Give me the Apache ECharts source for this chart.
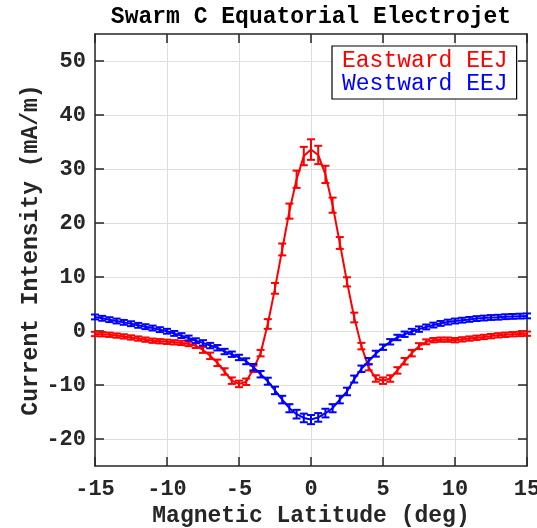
<!DOCTYPE html>
<html>
<head>
<meta charset="utf-8">
<script src="https://cdn.jsdelivr.net/npm/echarts@6/dist/echarts.min.js"></script>
<style>
html,body{margin:0;padding:0;background:#fff;}
#chart{width:537px;height:528px;}
</style>
</head>
<body>
<div id="chart"></div>
<script>
// Magnetic latitude (deg)
var latitudes = [-15,-14.5,-14,-13.5,-13,-12.5,-12,-11.5,-11,-10.5,-10,-9.5,-9,-8.5,-8,-7.5,-7,-6.5,-6,-5.5,-5,-4.5,-4,-3.5,-3,-2.5,-2,-1.5,-1,-0.5,0,0.5,1,1.5,2,2.5,3,3.5,4,4.5,5,5.5,6,6.5,7,7.5,8,8.5,9,9.5,10,10.5,11,11.5,12,12.5,13,13.5,14,14.5,15];
// Eastward EEJ (mA/m)
var eastward = [-0.55,-0.6,-0.7,-0.85,-1.0,-1.2,-1.4,-1.6,-1.8,-1.9,-2.0,-2.1,-2.2,-2.4,-2.7,-3.5,-4.6,-5.9,-7.5,-9.2,-9.8,-9.4,-7.0,-4.1,1.3,7.9,15.1,22.2,28.1,32.4,33.6,32.6,29.0,23.3,16.3,9.1,2.5,-2.8,-6.7,-8.8,-9.2,-8.8,-7.3,-5.6,-4.1,-2.8,-2.0,-1.7,-1.6,-1.6,-1.7,-1.55,-1.4,-1.25,-1.1,-0.95,-0.8,-0.7,-0.6,-0.55,-0.5];
var eastwardErr = [0.4,0.4,0.4,0.4,0.4,0.4,0.4,0.4,0.4,0.4,0.4,0.4,0.4,0.4,0.45,0.55,0.6,0.6,0.6,0.6,0.6,0.6,0.6,0.6,0.9,1.0,1.1,1.4,1.6,1.7,1.9,1.7,1.6,1.4,1.1,0.85,0.9,0.6,0.6,0.6,0.6,0.6,0.6,0.6,0.6,0.55,0.45,0.4,0.4,0.4,0.4,0.4,0.4,0.4,0.4,0.4,0.4,0.4,0.4,0.4,0.4];
// Westward EEJ (mA/m)
var westward = [2.6,2.35,2.1,1.85,1.6,1.35,1.05,0.8,0.55,0.25,-0.05,-0.45,-0.85,-1.3,-1.8,-2.2,-2.7,-3.1,-3.8,-4.3,-4.9,-5.6,-6.7,-8.0,-9.3,-11.0,-12.7,-14.3,-15.4,-16.1,-16.4,-16.0,-15.2,-14.3,-12.7,-11.2,-8.9,-7.0,-5.6,-4.2,-3.0,-2.0,-1.2,-0.6,-0.1,0.35,0.75,1.1,1.4,1.65,1.85,2.0,2.15,2.3,2.4,2.5,2.55,2.65,2.7,2.75,2.8];
var westwardErr = [0.45,0.45,0.45,0.45,0.45,0.45,0.45,0.45,0.45,0.45,0.45,0.45,0.45,0.45,0.45,0.5,0.5,0.5,0.5,0.5,0.5,0.55,0.6,0.6,0.65,0.7,0.7,0.75,0.8,0.8,0.85,0.8,0.8,0.75,0.7,0.7,0.65,0.6,0.6,0.55,0.5,0.5,0.5,0.5,0.5,0.5,0.45,0.45,0.45,0.45,0.45,0.45,0.45,0.45,0.45,0.45,0.45,0.45,0.45,0.45,0.45];
// Tick labels
var xTicks = [-15,-10,-5,0,5,10,15];
var yTicks = [-20,-10,0,10,20,30,40,50];

var FONT = '"Liberation Mono", "Courier New", monospace';
var AX = '#262626';

function pairs(xs, ys){ return xs.map(function(x,i){ return [x, ys[i]]; }); }
function bars(xs, ys, es){ return xs.map(function(x,i){ return [x, ys[i]-es[i], ys[i]+es[i]]; }); }

function errorRender(color){
  return function(params, api){
    var x = api.value(0);
    var lo = api.coord([x, api.value(1)]);
    var hi = api.coord([x, api.value(2)]);
    var w = 4;
    var st = {stroke: color, lineWidth: 2};
    return {type:'group', children:[
      {type:'line', shape:{x1:lo[0], y1:lo[1], x2:hi[0], y2:hi[1]}, style:st},
      {type:'line', shape:{x1:lo[0]-w, y1:lo[1], x2:lo[0]+w, y2:lo[1]}, style:st},
      {type:'line', shape:{x1:hi[0]-w, y1:hi[1], x2:hi[0]+w, y2:hi[1]}, style:st}
    ]};
  };
}

var chart = echarts.init(document.getElementById('chart'), null, {renderer:'canvas'});
var axisLineCommon = {show:true, onZero:false, lineStyle:{color:AX, width:1.5}};
var option = {
  animation:false,
  backgroundColor:'#fff',
  title:{
    text:'Swarm C Equatorial Electrojet',
    left:311, top:6, textAlign:'center', padding:0,
    textStyle:{fontFamily:FONT, fontWeight:'bold', fontSize:23, color:'#000'}
  },
  legend:{
    orient:'vertical', left:332, top:46,
    padding:[3,9,4,5], itemGap:0, itemWidth:0, itemHeight:23, icon:'none',
    backgroundColor:'#fff', borderColor:'#000', borderWidth:1.2,
    textStyle:{fontFamily:FONT, fontSize:23, lineHeight:23},
    data:[
      {name:'Eastward EEJ', textStyle:{color:'#ff0000'}},
      {name:'Westward EEJ', textStyle:{color:'#0000ff'}}
    ],
    selectedMode:false
  },
  grid:{left:95, right:10, top:34, bottom:62, containLabel:false, outerBoundsMode:'none'},
  xAxis:[
    {
      type:'value', min:-15, max:15, interval:5, position:'bottom',
      name:'Magnetic Latitude (deg)', nameLocation:'middle', nameGap:38,
      nameTextStyle:{fontFamily:FONT, fontWeight:'bold', fontSize:23, color:AX},
      axisLine:axisLineCommon,
      axisTick:{show:true, inside:true, length:9, customValues:xTicks, lineStyle:{color:AX, width:1.5}},
      axisLabel:{fontFamily:FONT, fontWeight:'bold', fontSize:22, color:AX, margin:12,
        customValues:xTicks},
      splitLine:{show:true, lineStyle:{color:'#dedede', width:1}}
    },
    {
      type:'value', min:-15, max:15, interval:5, position:'top',
      axisLine:axisLineCommon,
      axisTick:{show:true, inside:true, length:9, customValues:xTicks, lineStyle:{color:AX, width:1.5}},
      axisLabel:{show:false}, splitLine:{show:false}
    }
  ],
  yAxis:[
    {
      type:'value', min:-25, max:55, position:'left',
      name:'Current Intensity (mA/m)', nameLocation:'middle', nameGap:52, nameRotate:90,
      nameMoveOverlap:false,
      nameTextStyle:{fontFamily:FONT, fontWeight:'bold', fontSize:23, color:AX},
      axisLine:axisLineCommon,
      axisTick:{show:true, inside:true, length:9, customValues:yTicks, lineStyle:{color:AX, width:1.5}},
      axisLabel:{fontFamily:FONT, fontWeight:'bold', fontSize:22, color:AX, margin:9,
        customValues:yTicks},
      splitLine:{show:true, lineStyle:{color:'#dedede', width:1}}
    },
    {
      type:'value', min:-25, max:55, position:'right',
      axisLine:axisLineCommon,
      axisTick:{show:true, inside:true, length:9, customValues:yTicks, lineStyle:{color:AX, width:1.5}},
      axisLabel:{show:false}, splitLine:{show:false}
    }
  ],
  series:[
    {name:'Eastward EEJ', type:'line', data:pairs(latitudes, eastward), xAxisIndex:0, yAxisIndex:0,
      symbol:'none', lineStyle:{color:'#ff0000', width:2}, itemStyle:{color:'#ff0000'}, z:2},
    {name:'Eastward EEJ', type:'custom', data:bars(latitudes, eastward, eastwardErr), xAxisIndex:0, yAxisIndex:0,
      renderItem:errorRender('#ff0000'), encode:{x:0, y:[1,2]}, itemStyle:{color:'#ff0000'}, z:2},
    {name:'Westward EEJ', type:'line', data:pairs(latitudes, westward), xAxisIndex:0, yAxisIndex:0,
      symbol:'none', lineStyle:{color:'#0000ff', width:2}, itemStyle:{color:'#0000ff'}, z:3},
    {name:'Westward EEJ', type:'custom', data:bars(latitudes, westward, westwardErr), xAxisIndex:0, yAxisIndex:0,
      renderItem:errorRender('#0000ff'), encode:{x:0, y:[1,2]}, itemStyle:{color:'#0000ff'}, z:3}
  ]
};
chart.setOption(option);
</script>
</body>
</html>
